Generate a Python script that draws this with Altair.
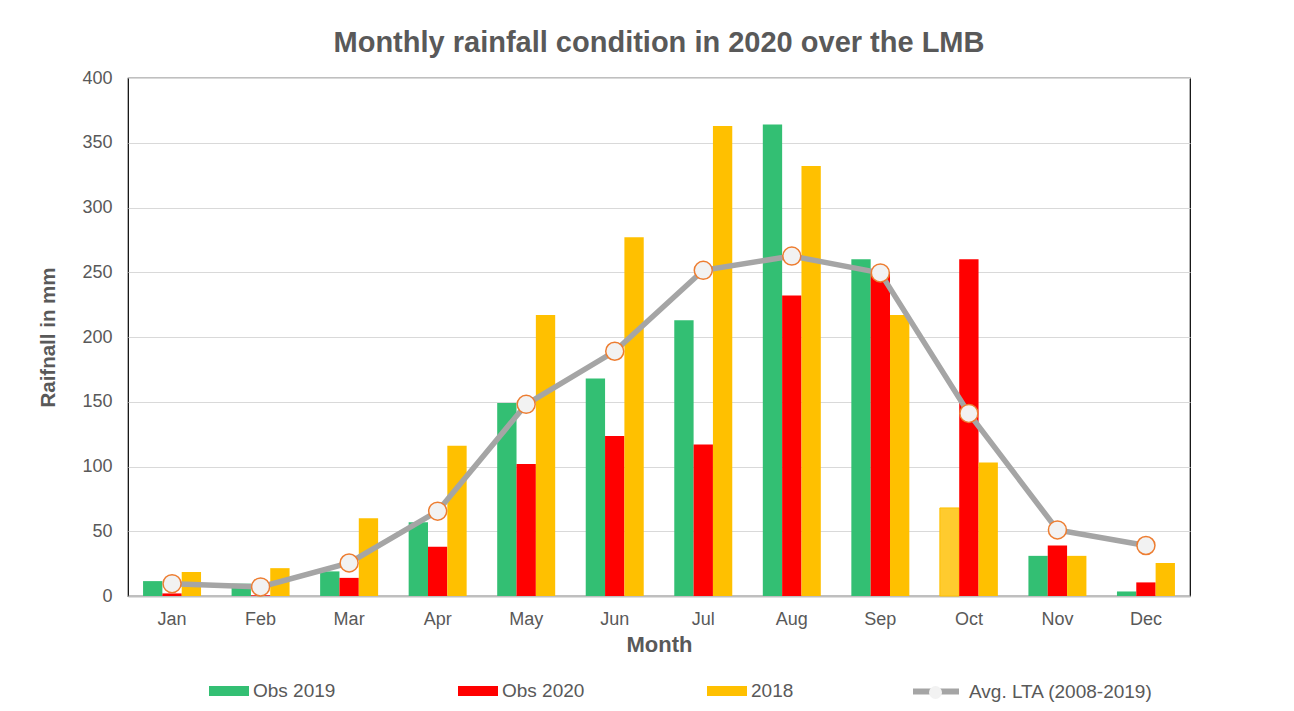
import altair as alt
import pandas as pd

months = ["Jan", "Feb", "Mar", "Apr", "May", "Jun", "Jul", "Aug", "Sep", "Oct", "Nov", "Dec"]
obs_2019 = [11.5, 9.5, 19, 57, 149, 168, 213, 364, 260, 68, 31, 3.5]
obs_2020 = [2, 0.5, 14, 38, 102, 123.5, 117, 232, 250, 260, 39, 10.5]
rain_2018 = [18.5, 21.5, 60, 116, 217, 277, 363, 332, 217, 103, 31, 25.5]
lta = [9.5, 7, 25.5, 65.5, 148, 189, 251.5, 262.5, 249.5, 141, 51, 39]

series_names = ["Obs 2019", "Obs 2020", "2018"]
series_colors = ["#33BF73", "#FF0000", "#FFC000"]
lta_name = "Avg. LTA (2008-2019)"
# bar drawn in a lighter yellow in the original
override_cells = [("Oct", "Obs 2019")]

FONT = "Liberation Sans"
GREY = "#595959"

rows = []
for name, vals in zip(series_names, [obs_2019, obs_2020, rain_2018]):
    for m, v in zip(months, vals):
        rows.append({"month": m, "series": name, "value": v,
                     "override": (m, name) in override_cells})
bar_df = pd.DataFrame(rows)
lta_df = pd.DataFrame({"month": months, "value": lta, "label": lta_name, "pt": "pt"})

x_enc = alt.X("month:N", sort=months, title="Month",
              scale=alt.Scale(paddingInner=0.345, paddingOuter=0.17),
              axis=alt.Axis(labelAngle=0, labelFontSize=18, labelColor=GREY, labelPadding=14,
                            ticks=False, domainColor="#BFBFBF", domainWidth=2,
                            titleFontSize=22, titleFontWeight="bold", titleColor=GREY,
                            titlePadding=6))
y_enc = alt.Y("value:Q", title="Raifnall in mm",
              scale=alt.Scale(domain=[0, 400], nice=False),
              axis=alt.Axis(values=[0, 50, 100, 150, 200, 250, 300, 350, 400],
                            labelFontSize=18, labelColor=GREY, labelPadding=16,
                            ticks=False, domain=False, gridColor="#D9D9D9", gridWidth=1.2,
                            titleFontSize=20.5, titleFontWeight="bold", titleColor=GREY,
                            titlePadding=23))

bars = alt.Chart(bar_df).mark_bar(strokeWidth=1).encode(
    x=x_enc,
    xOffset=alt.XOffset("series:N", sort=series_names,
                        scale=alt.Scale(domain=series_names, paddingInner=0, paddingOuter=0)),
    y=y_enc,
    color=alt.condition(
        "datum.override",
        alt.value("#FFCB2E"),
        alt.Color("series:N", scale=alt.Scale(domain=series_names, range=series_colors),
                  legend=alt.Legend(title=None, orient="none", legendX=81, legendY=593,
                                    direction="horizontal",
                                    symbolType="M-1,-0.25L1,-0.25L1,0.25L-1,0.25Z",
                                    symbolSize=1600, symbolStrokeWidth=0,
                                    labelOffset=4, columnPadding=122)),
    ),
    stroke=alt.condition("datum.override", alt.value("#FFC000"), alt.value("transparent")),
)

line = alt.Chart(lta_df).mark_line(strokeWidth=5.5).encode(
    x=alt.X("month:N", sort=months),
    y=alt.Y("value:Q"),
    stroke=alt.Stroke("label:N", scale=alt.Scale(domain=[lta_name], range=["#A5A5A5"]),
                      legend=alt.Legend(title=None, orient="none", legendX=782, legendY=587.5,
                                        symbolType="stroke", symbolSize=2116,
                                        symbolStrokeWidth=6, labelOffset=7)),
)

pts = alt.Chart(lta_df).mark_point(filled=True, size=324, fill="#F2F2F2", stroke="#ED7D31",
                                   strokeWidth=1.5, opacity=1).encode(
    x=alt.X("month:N", sort=months),
    y=alt.Y("value:Q"),
    shape=alt.Shape("pt:N", scale=alt.Scale(domain=["pt"], range=["circle"]),
                    legend=alt.Legend(title=None, orient="none", legendX=798, legendY=605,
                                      symbolSize=169, labelExpr="''",
                                      symbolFillColor="#F2F2F2", symbolStrokeColor="#ED7D31",
                                      symbolStrokeWidth=2, symbolOpacity=1)),
)

chart = alt.layer(bars, line, pts).resolve_legend(
    color="independent", stroke="independent", shape="independent"
).properties(
    width=1062, height=518,
    autosize=alt.AutoSizeParams(type="none"),
    padding={"left": 120, "top": 70, "right": 88, "bottom": 107},
    title=alt.TitleParams("Monthly rainfall condition in 2020 over the LMB",
                          fontSize=29, fontWeight="bold", color=GREY, anchor="middle",
                          offset=11, font=FONT),
).configure(font=FONT).configure_view(
    stroke="#000000", strokeWidth=1.2
).configure_legend(
    labelFontSize=19, labelColor=GREY, labelFont=FONT, padding=0, labelLimit=400
)

chart.save("out.html", embed_options={"renderer": "svg", "actions": False})
